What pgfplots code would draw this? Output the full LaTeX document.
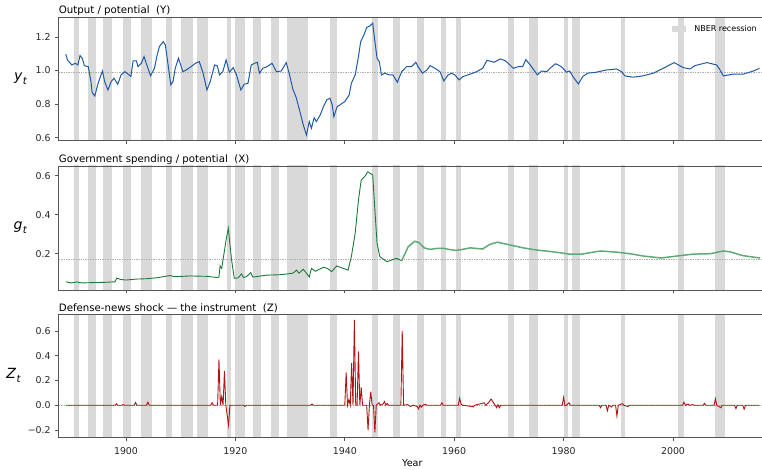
\documentclass[border=0pt]{standalone}
\usepackage{fontspec}
\setmainfont{DejaVu Sans}
\usepackage{pgfplots}
\pgfplotsset{compat=1.18}
\usepackage{pgfplotstable}

\definecolor{nber}{HTML}{D9D9D9}
\definecolor{yblue}{HTML}{1F5AA6}
\definecolor{gdark}{HTML}{1B7A3A}
\definecolor{glight}{HTML}{5FAB78}
\definecolor{zred}{HTML}{B01515}
\definecolor{spine}{HTML}{555555}
\definecolor{refline}{HTML}{B0B0B0}

% Output relative to potential
\pgfplotstableread{
year y
1889.0 1.097
1889.3 1.063
1890.1 1.033
1890.7 1.043
1891.2 1.033
1891.6 1.089
1892.0 1.073
1892.4 1.029
1893.1 1.023
1893.6 0.934
1893.8 0.870
1894.3 0.848
1894.9 0.924
1895.7 0.997
1896.1 0.934
1896.7 0.884
1897.3 0.934
1897.8 0.954
1898.5 0.918
1899.1 0.974
1899.8 0.993
1900.4 0.978
1900.9 0.964
1901.3 1.057
1901.9 1.057
1902.2 1.023
1902.8 1.043
1903.3 1.083
1903.7 1.043
1904.5 0.968
1905.2 1.013
1905.7 1.093
1906.1 1.142
1906.8 1.172
1907.2 1.152
1907.7 1.033
1908.2 0.914
1908.6 0.934
1909.0 1.013
1909.6 1.073
1910.4 0.993
1911.0 1.003
1911.9 1.023
1912.7 1.043
1913.4 1.053
1914.1 0.984
1914.8 0.884
1915.4 0.934
1916.2 1.033
1916.7 1.027
1917.1 0.974
1917.7 0.993
1918.3 1.063
1918.9 0.990
1919.6 1.017
1920.2 0.974
1921.0 0.884
1921.6 0.918
1922.3 0.924
1922.9 1.033
1923.5 1.043
1924.0 1.049
1924.4 0.984
1925.0 1.013
1925.8 1.023
1926.7 1.043
1927.5 0.993
1928.4 0.997
1929.3 1.047
1929.9 0.974
1930.5 0.890
1931.1 0.840
1931.8 0.755
1932.4 0.676
1933.0 0.616
1933.5 0.696
1933.9 0.656
1934.4 0.719
1934.8 0.696
1935.5 0.735
1936.1 0.785
1936.7 0.825
1937.3 0.835
1937.7 0.795
1938.0 0.725
1938.6 0.785
1939.1 0.795
1940.0 0.815
1940.8 0.854
1941.2 0.924
1941.9 0.974
1942.5 1.083
1942.9 1.172
1943.5 1.212
1944.0 1.256
1944.6 1.266
1945.1 1.282
1945.5 1.172
1945.9 1.073
1946.3 1.053
1946.7 0.974
1947.3 0.984
1948.1 0.974
1948.8 0.974
1949.6 0.930
1950.4 0.993
1951.3 1.023
1952.2 1.023
1953.0 1.049
1953.4 1.023
1954.2 0.984
1955.0 1.003
1955.6 1.029
1956.5 1.013
1957.4 0.993
1958.1 0.938
1958.9 0.974
1959.5 0.984
1960.1 0.974
1960.9 0.944
1961.6 0.964
1962.9 0.978
1964.1 0.993
1965.2 1.013
1966.0 1.061
1967.3 1.049
1968.4 1.069
1969.3 1.059
1970.2 1.033
1970.8 1.013
1971.7 1.023
1972.5 1.023
1973.1 1.065
1973.9 1.033
1975.2 0.974
1976.0 0.997
1976.9 0.993
1977.5 1.013
1977.9 1.023
1978.5 1.040
1979.3 1.029
1979.9 1.013
1980.5 0.990
1981.1 0.997
1981.7 0.964
1982.7 0.920
1983.5 0.964
1984.4 0.984
1986.0 0.990
1987.8 1.003
1989.7 1.009
1990.6 0.993
1991.2 0.968
1992.7 0.960
1994.5 0.968
1996.4 0.984
1998.2 1.013
2000.2 1.047
2001.9 1.017
2003.1 1.009
2004.0 1.029
2006.2 1.047
2008.0 1.033
2008.6 1.003
2009.2 0.968
2011.0 0.978
2012.8 0.978
2014.7 0.997
2015.8 1.013
}\ytab

% Government spending relative to potential, before 1950.5
\pgfplotstableread{
year g
1889.0 0.056
1890.0 0.050
1891.0 0.055
1892.0 0.050
1894.0 0.052
1896.0 0.053
1898.0 0.056
1898.3 0.075
1899.0 0.068
1900.0 0.065
1902.0 0.070
1904.0 0.072
1906.0 0.078
1908.0 0.088
1909.0 0.082
1911.7 0.086
1913.0 0.085
1914.8 0.084
1916.6 0.078
1917.0 0.080
1917.2 0.137
1917.5 0.125
1918.3 0.270
1918.7 0.330
1919.3 0.168
1919.8 0.074
1920.5 0.076
1921.1 0.096
1921.5 0.078
1922.0 0.082
1922.8 0.103
1923.2 0.080
1925.7 0.090
1928.0 0.092
1929.4 0.096
1930.5 0.100
1931.2 0.116
1931.6 0.100
1932.4 0.120
1933.0 0.100
1933.5 0.080
1933.9 0.125
1934.6 0.110
1935.2 0.118
1936.1 0.130
1936.8 0.125
1937.6 0.108
1938.5 0.137
1939.7 0.125
1940.6 0.116
1941.2 0.185
1941.9 0.305
1942.5 0.475
1943.0 0.578
1943.7 0.598
1944.2 0.620
1945.1 0.604
1945.5 0.424
1945.9 0.253
1946.4 0.185
1947.7 0.159
1948.6 0.168
1949.5 0.176
1950.4 0.164
}\gearly

% Government spending relative to potential, 1950.5 onward
\pgfplotstableread{
year g
1950.4 0.164
1951.6 0.236
1952.8 0.264
1953.6 0.256
1954.5 0.230
1955.6 0.222
1956.5 0.226
1957.2 0.228
1958.0 0.228
1959.0 0.222
1960.3 0.217
1961.5 0.222
1962.9 0.230
1965.2 0.224
1966.5 0.248
1967.9 0.259
1970.5 0.243
1972.6 0.230
1975.0 0.219
1978.0 0.210
1981.1 0.198
1983.3 0.198
1986.7 0.214
1989.7 0.208
1992.1 0.200
1994.6 0.188
1997.8 0.178
2000.7 0.188
2003.7 0.198
2006.8 0.200
2009.2 0.214
2010.4 0.210
2012.8 0.190
2015.9 0.178
}\glate

% Defense-news shock
\pgfplotstableread{
year z
1889.00 0
1898.00 0
1898.25 0.012
1898.50 0
1899.25 0
1899.50 0.005
1899.75 0
1901.50 0
1901.75 0.022
1902.00 0
1903.75 0
1904.00 0.025
1904.25 0
1915.50 0
1915.75 0.02
1916.00 0
1916.75 0
1917.00 0.37
1917.25 0
1917.50 0.07
1917.75 0
1918.00 0.275
1918.25 0
1918.75 -0.16
1919.00 0
1921.50 0
1921.75 -0.01
1922.00 0
1933.75 0
1934.00 0.01
1934.25 0
1940.00 0
1940.25 0.265
1940.50 0
1940.75 0.045
1941.00 0
1941.25 0.34
1941.50 0
1941.75 0.69
1942.00 0
1942.25 0
1942.50 0.435
1942.75 0
1943.00 0.145
1943.25 0
1944.00 0
1944.25 -0.20
1944.50 0
1944.75 0.11
1945.00 0
1945.25 0
1945.50 -0.22
1945.75 0
1946.25 0.02
1946.50 0
1947.00 0.01
1947.25 0.03
1947.50 0
1947.75 0.015
1948.00 0
1950.25 0
1950.50 0.60
1950.75 0
1951.50 0.005
1952.00 -0.01
1952.50 0
1953.25 -0.01
1953.50 -0.03
1953.75 0
1954.00 -0.015
1954.25 0
1954.75 0.008
1955.00 0
1957.50 0
1957.75 0.02
1958.00 0
1960.75 0
1961.00 0.056
1961.25 0.01
1961.50 0
1963.25 -0.01
1963.50 -0.013
1963.75 0
1965.50 0.02
1965.75 0
1966.25 0.02
1966.75 0.05
1967.25 0.015
1967.50 0
1967.75 -0.02
1968.00 0.005
1968.25 -0.02
1968.50 0
1979.75 0
1980.00 0.064
1980.25 -0.005
1980.50 0
1981.00 0.02
1981.25 0
1986.50 0
1986.75 -0.02
1987.00 0
1987.75 0
1988.00 -0.044
1988.25 0
1988.75 -0.015
1989.00 0
1989.50 0
1989.75 -0.087
1990.00 0
1990.75 0.013
1991.00 0
1991.75 -0.01
1992.00 0
2001.75 0
2002.00 0.025
2002.25 0
2002.75 0.01
2003.00 0
2003.50 0.005
2004.00 0
2005.50 0
2005.75 0.015
2006.00 0
2007.50 0
2007.75 0.053
2008.00 0
2008.75 -0.02
2009.00 0
2011.25 0
2011.50 -0.027
2011.75 0
2012.75 0
2013.00 -0.032
2013.25 0
2015.75 0
}\ztab

% NBER business-cycle contractions (peak quarter to trough quarter)
\def\recs{1890.5/1891.5, 1893.0/1894.5, 1895.75/1897.5, 1899.5/1901.0,
  1902.75/1904.75, 1907.25/1908.5, 1910.0/1912.25, 1913.0/1915.0,
  1918.5/1919.25, 1920.0/1921.75, 1923.25/1924.75, 1926.5/1928.0,
  1929.5/1933.25, 1937.25/1938.5, 1945.0/1946.0, 1948.75/1950.0,
  1953.25/1954.5, 1957.5/1958.5, 1960.25/1961.25, 1969.75/1971.0,
  1973.75/1975.25, 1980.0/1980.75, 1981.5/1983.0, 1990.5/1991.25,
  2001.0/2002.0, 2007.75/2009.5}

\newcommand\shaderecessions{%
  \foreach \a/\b in \recs {%
    \edef\tmp{\noexpand\addplot[fill=nber, draw=none, forget plot]
      coordinates {(\a,-9) (\b,-9) (\b,9) (\a,9)};}\tmp
  }%
}

\newcommand\sym[2]{\textit{#1}\kern0.3pt\raisebox{-0.3em}{\fontsize{10}{10}\selectfont\itshape #2}}

\pgfplotsset{
  panel/.style={
    scale only axis, width=707.3pt,
    xmin=1887.7, xmax=2017.0,
    axis on top,
    tick align=outside, xtick pos=bottom, ytick pos=left,
    major tick length=3.5pt,
    every tick/.append style={spine, line width=0.8pt},
    axis line style={spine, line width=0.9pt},
    xtick={1900,1920,1940,1960,1980,2000},
    tick label style={font=\fontsize{9.4}{11}\selectfont, text=black!85},
    yticklabel style={anchor=east, xshift=-1pt},
    xticklabel style={yshift=-3pt},
    every axis title/.style={at={(0,1)}, anchor=south west, inner sep=0pt,
      yshift=1.5pt, font=\fontsize{10.2}{12}\selectfont},
    ylabel style={rotate=-90, anchor=east, inner sep=0pt,
      font=\fontsize{14}{16}\selectfont},
  },
}

\begin{document}
\begin{tikzpicture}

% Panel Y
\begin{axis}[panel, at={(58.7pt,451.7pt)}, anchor=north west, height=123.4pt,
  ymin=0.582, ymax=1.317,
  ytick={0.6,0.8,1.0,1.2}, yticklabels={0.6,0.8,1.0,1.2},
  xticklabels={},
  title={Output / potential\ \ (Y)},
  ylabel={\sym{y}{t}}, ylabel style={at={(axis description cs:-0.0448,0.5)}},
  legend style={draw=none, fill=none, at={(1,1)}, anchor=north east,
    xshift=-4pt, yshift=-4pt, font=\fontsize{8}{10}\selectfont},
  legend cell align=left,
]
\addlegendimage{legend image code/.code={%
  \fill[nber, draw=none] (-5pt,-3pt) rectangle (9pt,3pt);
  \path[draw=none, fill=none] (-5pt,0pt) rectangle (15pt,0.1pt);}}
\addlegendentry{NBER recession}
\shaderecessions
\addplot[refline, densely dotted, line width=0.7pt, forget plot] coordinates {(1880,0.99) (2020,0.99)};
\addplot[yblue, line width=1pt, forget plot] table[x=year, y=y] {\ytab};
\end{axis}

% Panel X
\begin{axis}[panel, at={(58.7pt,303pt)}, anchor=north west, height=124pt,
  ymin=0.014, ymax=0.65,
  ytick={0.2,0.4,0.6}, yticklabels={0.2,0.4,0.6},
  xticklabels={},
  title={Government spending / potential\ \ (X)},
  ylabel={\sym{g}{t}}, ylabel style={at={(axis description cs:-0.0448,0.5)}},
]
\shaderecessions
\addplot[refline, densely dotted, line width=0.7pt, forget plot] coordinates {(1880,0.171) (2020,0.171)};
\addplot[gdark, line width=0.9pt, forget plot] table[x=year, y=g] {\gearly};
\addplot[glight, line width=1.5pt, forget plot] table[x=year, y=g] {\glate};
\end{axis}

% Panel Z
\begin{axis}[panel, at={(58.7pt,154.7pt)}, anchor=north west, height=123pt,
  ymin=-0.259, ymax=0.735,
  ytick={-0.2,0,0.2,0.4,0.6}, yticklabels={−0.2,0.0,0.2,0.4,0.6},
  xticklabels={1900,1920,1940,1960,1980,2000},
  title={Defense-news shock — the instrument\ \ (Z)},
  ylabel={\sym{Z}{t}}, ylabel style={at={(axis description cs:-0.0537,0.5)}},
  xlabel={Year}, xlabel style={font=\fontsize{9.6}{11}\selectfont, yshift=2pt},
]
\shaderecessions
\addplot[refline, densely dotted, line width=0.7pt, forget plot] coordinates {(1880,0) (2020,0)};
\addplot[zred, line width=0.9pt, forget plot] table[x=year, y=z] {\ztab};
\end{axis}

\pgfresetboundingbox
\useasboundingbox (0,0) rectangle (762pt,469pt);
\end{tikzpicture}
\end{document}
